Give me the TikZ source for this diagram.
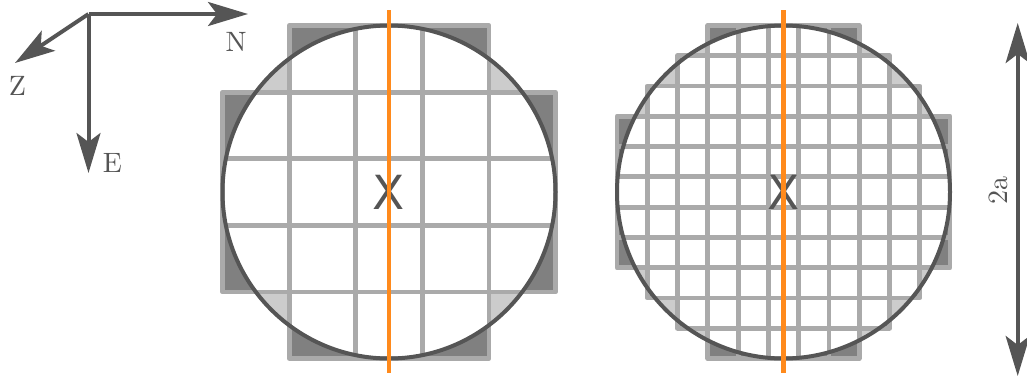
\documentclass[tikz,border=0pt]{standalone}
\usepackage{fontspec}
\newfontfamily\xfont{DejaVu Sans}
\usetikzlibrary{arrows.meta}
\definecolor{cdark}{HTML}{555555}
\definecolor{cgrid}{HTML}{AAAAAA}
\definecolor{cout}{HTML}{808080}
\definecolor{cin}{HTML}{CCCCCC}
\definecolor{corange}{HTML}{FF8A1C}
\newcommand\biglbl[1]{\scalebox{2.8}{\fontsize{10pt}{10pt}\selectfont #1}}
\tikzset{
  gridln/.style={draw=cgrid, line width=4.8pt, line join=round},
  circln/.style={draw=cdark, line width=4pt},
  orangeln/.style={draw=corange, line width=4.5pt},
  xlabel/.style={font=\xfont\fontsize{47}{47}\selectfont, text=cdark, inner sep=0pt},
  axlabel/.style={text=cdark, inner sep=0pt},
  axisarrow/.style={draw=cdark, line width=4pt, -{Stealth[length=40pt,width=24pt,inset=9pt]}},
  dimarrow/.style={draw=cdark, line width=4pt, {Stealth[length=40pt,width=24pt,inset=9pt]}-{Stealth[length=40pt,width=24pt,inset=9pt]}}
}
\newcommand\mydisk[2]{%
  \fill[cin] (#1/2,#1/2) circle [radius=#1/2];
  \foreach \r/\lo/\hi in {#2} {\foreach \c in {\lo,...,\hi} {\fill[cout] (\c,\r) rectangle ++(1,1);}}
  \begin{scope}
    \clip (#1/2,#1/2) circle [radius=#1/2];
    \foreach \r/\lo/\hi in {#2} {\foreach \c in {\lo,...,\hi} {\fill[white] (\c,\r) rectangle ++(1,1);}}
  \end{scope}
  \foreach \r/\lo/\hi in {#2} {\foreach \c in {\lo,...,\hi} {\draw[gridln] (\c,\r) rectangle ++(1,1);}}
  \draw[circln] (#1/2,#1/2) circle [radius=#1/2];
}
\begin{document}
\begin{tikzpicture}[x=1pt,y=-1pt]
\useasboundingbox (0,0) rectangle (1027,378);
% left disk
\begin{scope}[shift={(222.5pt,-25.5pt)}, x=66.6pt, y=-66.6pt]
  \mydisk{5}{0/1/3, 1/0/4, 2/0/4, 3/0/4, 4/1/3}
\end{scope}
\node[xlabel] (xL) at (389,192) {X};
\coordinate (oLt) at (389,10);
\coordinate (oLb) at (389,373);
\draw[orangeln] (oLt) -- (oLb);
% right disk
\begin{scope}[shift={(617pt,-25.5pt)}, x=30.2727pt, y=-30.2727pt]
  \mydisk{11}{0/3/7, 1/2/8, 2/1/9, 3/0/10, 4/0/10, 5/0/10, 6/0/10, 7/0/10, 8/1/9, 9/2/8, 10/3/7}
\end{scope}
\node[xlabel] (xR) at (783.5,192.5) {X};
\coordinate (oRt) at (783.5,10);
\coordinate (oRb) at (783.5,373);
\draw[orangeln] (oRt) -- (oRb);
% axes
\coordinate (O) at (88.5,14);
\coordinate (Ntip) at (248,14);
\coordinate (Etip) at (88.5,173);
\coordinate (Ztip) at (15,63);
\draw[axisarrow] (O) -- (Ntip);
\draw[axisarrow] (O) -- (Etip);
\draw[axisarrow] (O) -- (Ztip);
\node[axlabel] (lN) at (236,42) {\biglbl{N}};
\node[axlabel] (lE) at (112.5,162.5) {\biglbl{E}};
\node[axlabel] (lZ) at (17.5,86) {\biglbl{Z}};
% dimension
\coordinate (dTop) at (1017.7,23);
\coordinate (dBot) at (1017.7,376);
\draw[dimarrow] (dTop) -- (dBot);
\node[axlabel, rotate=90] (l2a) at (998,190) {\biglbl{2a}};
\end{tikzpicture}
\end{document}
